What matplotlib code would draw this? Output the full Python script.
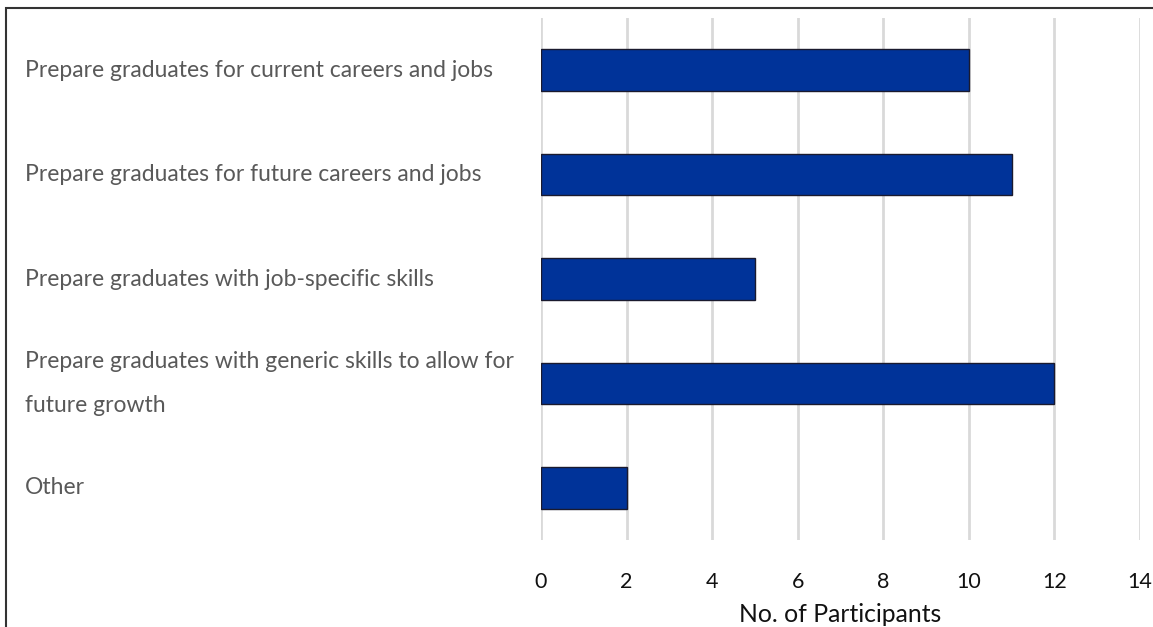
import matplotlib.pyplot as plt
from matplotlib.patches import Rectangle
from matplotlib.transforms import blended_transform_factory

categories = [
    "Prepare graduates for current careers and jobs",
    "Prepare graduates for future careers and jobs",
    "Prepare graduates with job-specific skills",
    "Prepare graduates with generic skills to allow for\nfuture growth",
    "Other",
]
participants = [10, 11, 5, 12, 2]
xticks = [0, 2, 4, 6, 8, 10, 12, 14]

plt.rcParams['font.family'] = ['Lato', 'DejaVu Sans']

fig = plt.figure(figsize=(11.53, 6.27), dpi=100)
ax = fig.add_axes([541 / 1153, 1 - 540 / 627, 599 / 1153, 522 / 627])

ypos = list(range(len(categories)))
ax.barh(ypos, participants, height=0.4, color='#003399',
        edgecolor='#1a1a2e', linewidth=1.0, zorder=3)

ax.set_xlim(0, 14)
ax.set_ylim(4.5, -0.5)
ax.set_xticks(xticks)
ax.set_xticklabels([str(t) for t in xticks], fontsize=15.5, color='#111111')
ax.set_yticks([])
ax.tick_params(axis='x', length=0, pad=23)
ax.grid(axis='x', color='#d9d9d9', linewidth=2, zorder=0)
for s in ax.spines.values():
    s.set_visible(False)
ax.set_xlabel("No. of Participants", fontsize=17.8, color='#111111', labelpad=8)

# category labels, left aligned near the figure edge
trans = blended_transform_factory(fig.transFigure, ax.transData)
for y, lab in zip(ypos, categories):
    ax.text(25 / 1153, y, lab, transform=trans, fontsize=16.5, color='#595959',
            ha='left', va='center', linespacing=2.33)

# outer frame
fig.patches.append(Rectangle((6 / 1153, -0.1), 1.2, 1 - 8 / 627 + 0.1,
                             transform=fig.transFigure, fill=False,
                             edgecolor='#333333', linewidth=1.5))

fig.savefig('out.png', dpi=100)
